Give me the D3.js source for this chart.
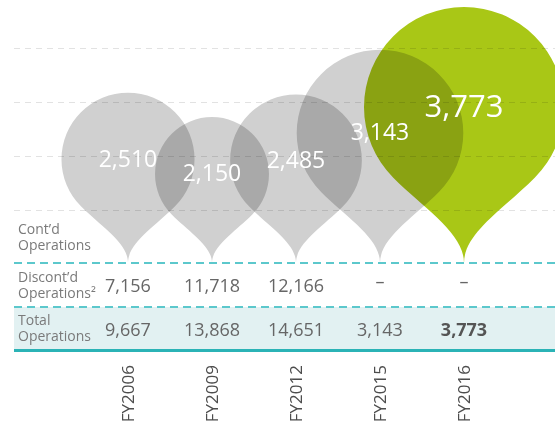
<!DOCTYPE html>
<html>
<head>
<meta charset="utf-8">
<script src="https://cdn.jsdelivr.net/npm/d3@7"></script>
<style>
  body { margin: 0; background: #fff; }
  svg { display: block; background: #fff; font-family: "Open Sans", sans-serif; }
  .pin { mix-blend-mode: multiply; }
</style>
</head>
<body>
<svg id="chart" width="555" height="423"></svg>
<script>
// data
var years = ['FY2006', 'FY2009', 'FY2012', 'FY2015', 'FY2016'];
var contOps = [2510, 2150, 2485, 3143, 3773];
var discontOps = [7156, 11718, 12166, null, null];
var totalOps = [9667, 13868, 14651, 3143, 3773];
var rowLabels = [['Cont\u2019d', 'Operations'], ['Discont\u2019d', 'Operations\u00b2'], ['Total', 'Operations']];
var gridTicks = [1, 2, 3, 4];

var W = 555, H = 423,
    left = 14,
    tipY = 263,
    row2Y = 307,
    bottomY = 350.5;

var fmt = d3.format(',');
var svg = d3.select('#chart');

var x = d3.scalePoint()
    .domain(years)
    .range([128, 464]);

var y = d3.scaleLinear()
    .domain([0, 4])
    .range([264, 48]);

var r = d3.scaleLinear()
    .domain([0, d3.max(contOps)])
    .range([0, 100]);

// gray dashed grid
svg.append('g').selectAll('line')
    .data(gridTicks)
    .enter()
    .append('line')
    .attr('x1', left).attr('x2', W)
    .attr('y1', function (d) { return Math.round(y(d)) + 0.5; })
    .attr('y2', function (d) { return Math.round(y(d)) + 0.5; })
    .attr('stroke', '#e2e2e2')
    .attr('stroke-width', 1)
    .attr('stroke-dasharray', '6,5');

// total row background
svg.append('rect')
    .attr('x', left).attr('y', row2Y)
    .attr('width', W - left).attr('height', bottomY - row2Y)
    .attr('fill', '#e2f1f2');

// pins
function pinPath(rad) {
    var d = rad * 1.56,
        th = Math.PI / 4,
        k1 = rad * 0.45,
        k2 = rad * 0.3,
        s = Math.sin(th), c = Math.cos(th),
        Lx = -rad * s, Ly = rad * c,
        Rx = rad * s, Ry = rad * c;
    return 'M0,' + d +
        'C0,' + (d - k2) + ' ' + (Lx + k1 * c) + ',' + (Ly + k1 * s) + ' ' + Lx + ',' + Ly +
        'A' + rad + ',' + rad + ' 0 1 1 ' + Rx + ',' + Ry +
        'C' + (Rx - k1 * c) + ',' + (Ry + k1 * s) + ' 0,' + (d - k2) + ' 0,' + d + 'Z';
}

svg.append('g').selectAll('path')
    .data(contOps)
    .enter()
    .append('path')
    .attr('class', 'pin')
    .attr('d', function (d) { return pinPath(r(d)); })
    .attr('transform', function (d, i) {
        return 'translate(' + x(years[i]) + ',' + (tipY - r(d) * 1.56) + ')';
    })
    .attr('fill', function (d, i) { return i === years.length - 1 ? '#a9c716' : '#d0d0d0'; });

// bubble labels
svg.append('g').selectAll('text')
    .data(contOps)
    .enter()
    .append('text')
    .text(function (d) { return fmt(d); })
    .attr('x', function (d, i) { return x(years[i]); })
    .attr('y', function (d) { return tipY - r(d) * 1.56; })
    .attr('dy', '0.32em')
    .attr('text-anchor', 'middle')
    .attr('fill', '#fff')
    .attr('font-size', function (d, i) { return i === years.length - 1 ? 31 : 23; });

// teal dashed separators
svg.append('g').selectAll('line')
    .data([tipY, row2Y])
    .enter()
    .append('line')
    .attr('x1', left).attr('x2', W)
    .attr('y1', function (d) { return d; })
    .attr('y2', function (d) { return d; })
    .attr('stroke', '#5cc8cc')
    .attr('stroke-width', 2)
    .attr('stroke-dasharray', '8,5');

svg.append('line')
    .attr('x1', left).attr('x2', W)
    .attr('y1', bottomY).attr('y2', bottomY)
    .attr('stroke', '#2bb3b6')
    .attr('stroke-width', 3);

// row labels
var labelY = [234, 282, 325];
rowLabels.forEach(function (lines, i) {
    svg.append('text')
        .attr('x', 18)
        .attr('y', labelY[i])
        .attr('fill', '#7a7a7a')
        .attr('font-size', 14)
        .selectAll('tspan')
        .data(lines)
        .enter()
        .append('tspan')
        .attr('x', 18)
        .attr('dy', function (d, j) { return j ? 15.5 : 0; })
        .text(function (d) { return d; });
});

// table values
svg.append('g').selectAll('text')
    .data(discontOps)
    .enter()
    .append('text')
    .text(function (d) { return d == null ? '\u2013' : fmt(d); })
    .attr('x', function (d, i) { return x(years[i]); })
    .attr('y', function (d) { return d == null ? 288 : 292; })
    .attr('text-anchor', 'middle')
    .attr('fill', '#666')
    .attr('font-size', 18);

svg.append('g').selectAll('text')
    .data(totalOps)
    .enter()
    .append('text')
    .text(function (d) { return fmt(d); })
    .attr('x', function (d, i) { return x(years[i]); })
    .attr('y', 336)
    .attr('text-anchor', 'middle')
    .attr('fill', function (d, i) { return i === years.length - 1 ? '#555' : '#666'; })
    .attr('font-weight', function (d, i) { return i === years.length - 1 ? 'bold' : 'normal'; })
    .attr('font-size', 18);

// year labels, rotated
svg.append('g').selectAll('text')
    .data(years)
    .enter()
    .append('text')
    .text(function (d) { return d; })
    .attr('transform', function (d) {
        return 'translate(' + (x(d) + 6) + ',365) rotate(-90)';
    })
    .attr('text-anchor', 'end')
    .attr('fill', '#4d4d4d')
    .attr('font-size', 17);
</script>
</body>
</html>
